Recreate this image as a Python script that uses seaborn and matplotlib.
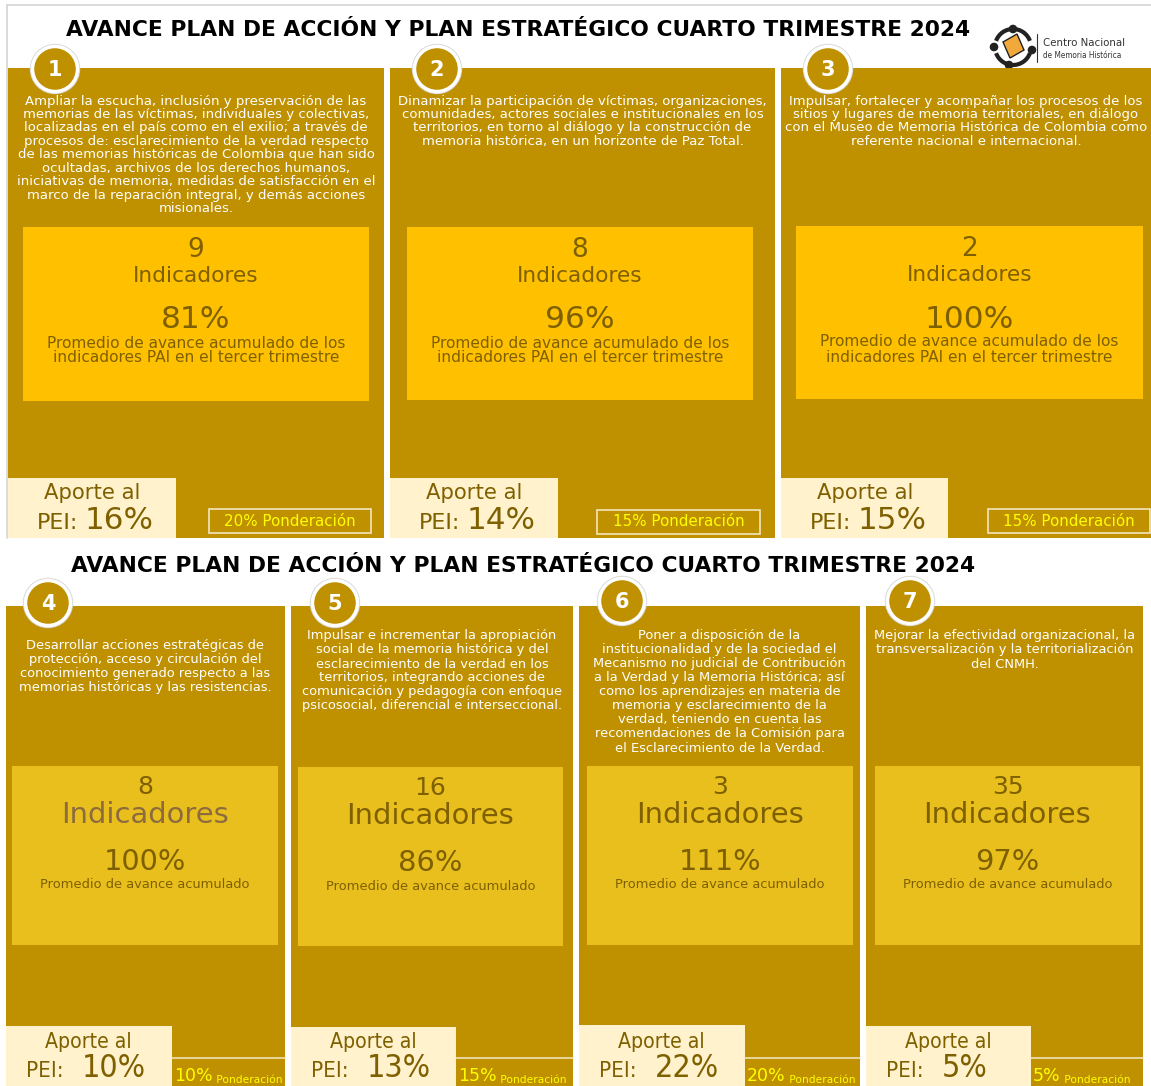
import matplotlib
matplotlib.use("Agg")
import matplotlib.pyplot as plt
from matplotlib.patches import Rectangle, Circle, Arc, Polygon
import seaborn as sns

sns.set_theme(style="white")
plt.rcParams['font.family'] = ['DejaVu Sans']

# ---- datos ----
titulo = "AVANCE PLAN DE ACCIÓN Y PLAN ESTRATÉGICO CUARTO TRIMESTRE 2024"
objetivos = ["1", "2", "3", "4", "5", "6", "7"]
descripciones = [
    "Ampliar la escucha, inclusión y preservación de las\n"
    "memorias de las víctimas, individuales y colectivas,\n"
    "localizadas en el país como en el exilio; a través de\n"
    "procesos de: esclarecimiento de la verdad respecto\n"
    "de las memorias históricas de Colombia que han sido\n"
    "ocultadas, archivos de los derechos humanos,\n"
    "iniciativas de memoria, medidas de satisfacción en el\n"
    "marco de la reparación integral, y demás acciones\n"
    "misionales.",
    "Dinamizar la participación de víctimas, organizaciones,\n"
    "comunidades, actores sociales e institucionales en los\n"
    "territorios, en torno al diálogo y la construcción de\n"
    "memoria histórica, en un horizonte de Paz Total.",
    "Impulsar, fortalecer y acompañar los procesos de los\n"
    "sitios y lugares de memoria territoriales, en diálogo\n"
    "con el Museo de Memoria Histórica de Colombia como\n"
    "referente nacional e internacional.",
    "Desarrollar acciones estratégicas de\n"
    "protección, acceso y circulación del\n"
    "conocimiento generado respecto a las\n"
    "memorias históricas y las resistencias.",
    "Impulsar e incrementar la apropiación\n"
    "social de la memoria histórica y del\n"
    "esclarecimiento de la verdad en los\n"
    "territorios, integrando acciones de\n"
    "comunicación y pedagogía con enfoque\n"
    "psicosocial, diferencial e interseccional.",
    "Poner a disposición de la\n"
    "institucionalidad y de la sociedad el\n"
    "Mecanismo no judicial de Contribución\n"
    "a la Verdad y la Memoria Histórica; así\n"
    "como los aprendizajes en materia de\n"
    "memoria y esclarecimiento de la\n"
    "verdad, teniendo en cuenta las\n"
    "recomendaciones de la Comisión para\n"
    "el Esclarecimiento de la Verdad.",
    "Mejorar la efectividad organizacional, la\n"
    "transversalización y la territorialización\n"
    "del CNMH.",
]
indicadores = [9, 8, 2, 8, 16, 3, 35]
avance = [81, 96, 100, 100, 86, 111, 97]
aporte_pei = [16, 14, 15, 10, 13, 22, 5]
ponderacion = [20, 15, 15, 10, 15, 20, 5]
leyenda_arriba = ["Promedio de avance acumulado de los",
                  "indicadores PAI en el tercer trimestre"]
leyenda_abajo = ["Promedio de avance acumulado"]

# ---- colores ----
DORADO = "#BF9000"
AMARILLO = "#FFC000"
AMARILLO2 = "#E9BF1D"
CREMA = "#FFF2CC"
OLIVA = "#7F6000"
PARDO = "#8C6B3F"
AMARILLO_TXT = "#FFFF00"

# ---- layout (pixeles) ----
# panel x0, x1, y0, y1 | caja x0, x1, y0, y1 | circulo cx, cy | desc y | aporte x1, y0
layout = [
    (8, 384, 68, 538, 23, 369, 227, 401, 55, 69, 101, 176, 478),
    (390, 775, 68, 538, 407, 753, 227, 400, 437, 69, 101, 558, 478),
    (781, 1151, 68, 538, 796, 1143, 226, 399, 828, 69, 101, 948, 478),
    (6, 285, 606, 1086, 12, 278, 766, 945, 48, 603, 645, 172, 1026),
    (291, 573, 606, 1086, 298, 563, 767, 946, 335, 603, 636, 456, 1027),
    (579, 860, 606, 1086, 587, 853, 766, 945, 622, 601, 636, 745, 1025),
    (866, 1143, 606, 1086, 875, 1140, 766, 945, 910, 601, 636, 1031, 1026),
]
pond_cajas = [(209, 371, 509, 533), (597, 760, 510, 534), (988, 1150, 509, 533)]

fig = plt.figure(figsize=(11.51, 10.86), dpi=100)
ax = fig.add_axes([0, 0, 1, 1])
ax.set_xlim(0, 1151)
ax.set_ylim(1086, 0)
ax.axis('off')

# marco superior
ax.plot([7, 1151], [5, 5], color="#D4D4D4", lw=1.2)
ax.plot([7, 7], [5, 538], color="#D4D4D4", lw=1.2)

ax.text(518, 30, titulo, ha='center', va='center', fontsize=15.7,
        fontweight='bold', color='black')
ax.text(523, 566, titulo, ha='center', va='center', fontsize=15.7,
        fontweight='bold', color='black')

# logo
ax.add_patch(Arc((1013, 47), 36, 36, theta1=20, theta2=160, color='#222222', lw=3))
ax.add_patch(Arc((1013, 47), 36, 36, theta1=200, theta2=340, color='#222222', lw=3))
for dx, dy in [(0, -18), (-19, 0), (19, 3), (-4, 18)]:
    ax.add_patch(Circle((1013 + dx, 47 + dy), 3.6, color='#222222'))
ax.add_patch(Polygon([(1003, 42), (1017, 34), (1024, 50), (1010, 58)],
                     closed=True, fc="#F2A93B", ec='#222222', lw=1))
ax.plot([1037, 1037], [34, 62], color='#333333', lw=0.8)
ax.text(1043, 43, "Centro Nacional", ha='left', va='center', fontsize=8.2,
        color='#333333', fontstretch='condensed')
ax.text(1043, 56, "de Memoria Histórica", ha='left', va='center', fontsize=5.9,
        color='#333333', fontstretch='condensed')

for i, lay in enumerate(layout):
    (px0, px1, py0, py1, bx0, bx1, by0, by1, cx, cy, dy0, ax1, ay0) = lay
    arriba = i < 3

    ax.add_patch(Rectangle((px0, py0), px1 - px0, py1 - py0, color=DORADO, lw=0))

    # circulo con el numero
    ax.add_patch(Circle((cx, cy), 24.5, fc='none', ec='#D8D8D8', lw=1))
    ax.add_patch(Circle((cx, cy), 22.5, fc=DORADO, ec='white', lw=2.5))
    ax.text(cx, cy + 1, objetivos[i], ha='center', va='center', fontsize=15,
            fontweight='bold', color='white')

    # descripcion
    lineas = descripciones[i].split("\n")
    paso = 13.45 if arriba else 14
    for k, ln in enumerate(lineas):
        ax.text((px0 + px1) / 2, dy0 + k * paso, ln, ha='center', va='center',
                fontsize=9.5 if arriba else 9.35, color='white')

    # caja central
    ax.add_patch(Rectangle((bx0, by0), bx1 - bx0, by1 - by0,
                           color=AMARILLO if arriba else AMARILLO2, lw=0))
    mx = (bx0 + bx1) / 2
    if arriba:
        ax.text(mx, by0 + 23, str(indicadores[i]), ha='center', va='center',
                fontsize=19, color=OLIVA)
        ax.text(mx, by0 + 49, "Indicadores", ha='center', va='center',
                fontsize=15.6, color=OLIVA)
        ax.text(mx, by0 + 93, f"{avance[i]}%", ha='center', va='center',
                fontsize=22.5, color=OLIVA)
        for k, ln in enumerate(leyenda_arriba):
            ax.text(mx, by0 + 116 + k * 15, ln, ha='center', va='center',
                    fontsize=11.1, color=OLIVA)
    else:
        ax.text(mx, by0 + 21, str(indicadores[i]), ha='center', va='center',
                fontsize=18, color=OLIVA)
        ax.text(mx, by0 + 49, "Indicadores", ha='center', va='center',
                fontsize=20.9, color=PARDO if i == 3 else OLIVA)
        ax.text(mx, by0 + 96, f"{avance[i]}%", ha='center', va='center',
                fontsize=20.8, color=OLIVA)
        ax.text(mx, by0 + 119, leyenda_abajo[0], ha='center', va='center',
                fontsize=9.4, color=OLIVA)

    # aporte al PEI
    ax.add_patch(Rectangle((px0, ay0), ax1 - px0, py1 - ay0, color=CREMA, lw=0))
    if arriba:
        ax.text(px0 + 84, ay0 + 15, "Aporte al", ha='center', va='center',
                fontsize=15.2, color=OLIVA)
        ax.text(px0 + 70, 529, "PEI:", ha='right', va='baseline',
                fontsize=16, color=OLIVA)
        ax.text(px0 + 77, 529, f"{aporte_pei[i]}%", ha='left', va='baseline',
                fontsize=22.3, color=OLIVA)
        qx0, qx1, qy0, qy1 = pond_cajas[i]
        ax.add_patch(Rectangle((qx0, qy0), qx1 - qx0, qy1 - qy0, fc='none',
                               ec='#F3E6BE', lw=1.2))
        ax.text((qx0 + qx1) / 2, (qy0 + qy1) / 2, f"{ponderacion[i]}% Ponderación",
                ha='center', va='center', fontsize=10.9, color=AMARILLO_TXT)
    else:
        ax.text(px0 + 82, 1042, "Aporte al", ha='center', va='center',
                fontsize=15.2, color=OLIVA, fontstretch='condensed')
        ax.text(px0 + 58, 1077, "PEI:", ha='right', va='baseline',
                fontsize=16, color=OLIVA, fontstretch='condensed')
        ax.text(px0 + 76, 1077, f"{aporte_pei[i]}%", ha='left', va='baseline',
                fontsize=23, color=OLIVA, fontstretch='condensed')
        ax.plot([ax1, px1], [1058, 1058], color='#F0E2B8', lw=1.2)
        t = ax.text(ax1 + 2, 1081, f"{ponderacion[i]}%", ha='left', va='baseline',
                    fontsize=12.5, color=AMARILLO_TXT)
        ax.annotate(" Ponderación", xy=(1, 0), xycoords=t, ha='left', va='bottom',
                    fontsize=7.7, color=AMARILLO_TXT)

fig.savefig("out.png", dpi=100)
